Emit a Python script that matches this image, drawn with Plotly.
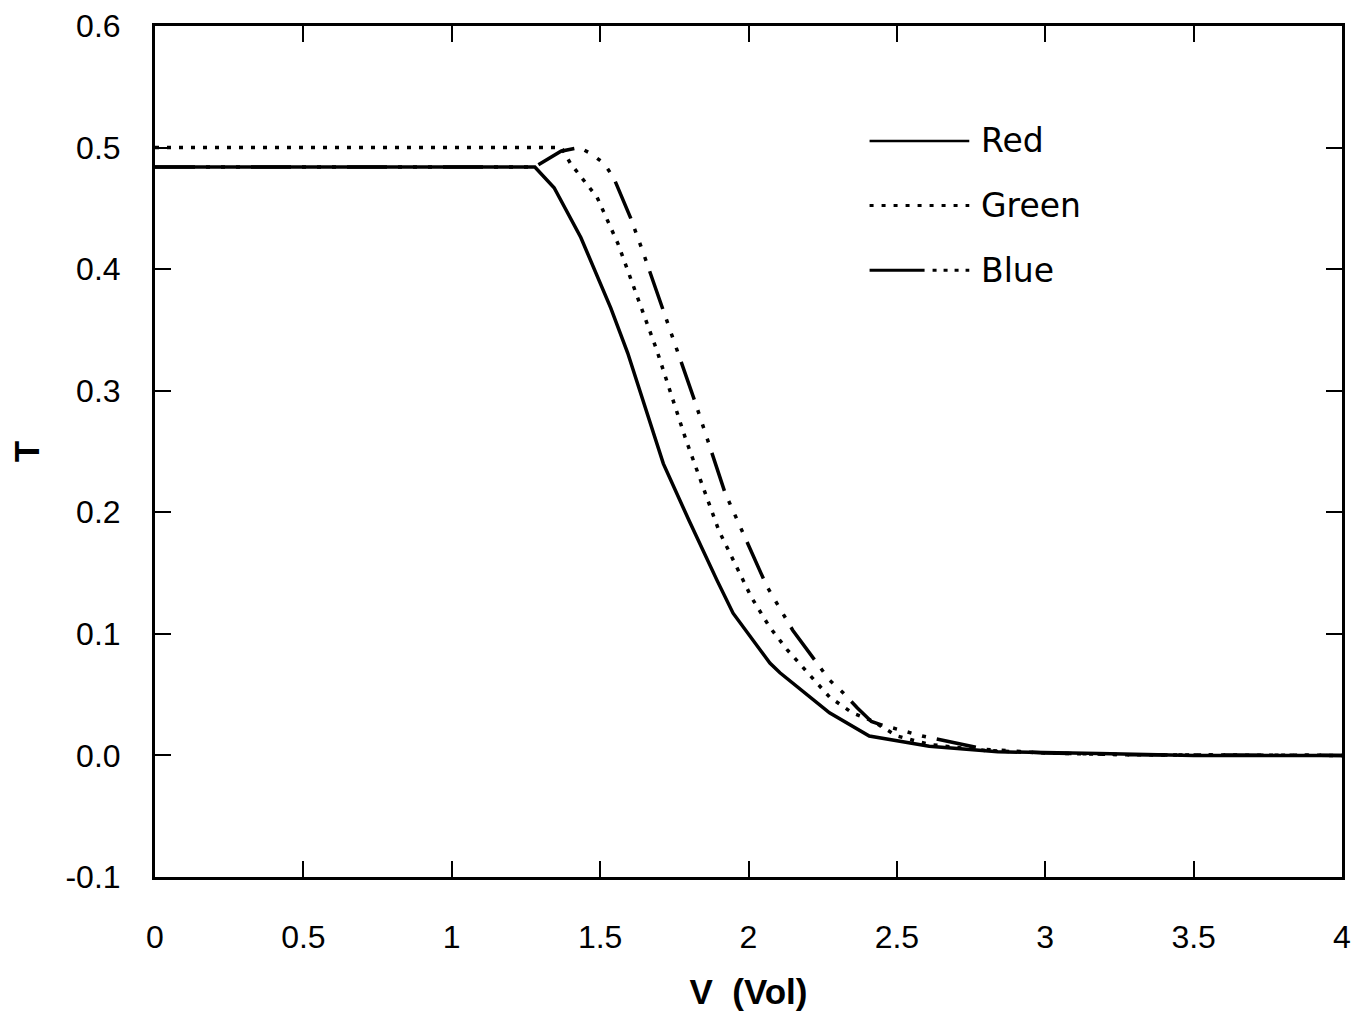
import plotly.graph_objects as go

# Transmission T versus applied voltage V for the three colour channels
red_v = [0, 1.28, 1.345, 1.435, 1.536, 1.593, 1.713, 1.80, 1.894, 1.948, 2.072, 2.106,
         2.273, 2.407, 2.609, 2.84, 3.18, 3.5, 4.0]
red_t = [0.484, 0.484, 0.467, 0.426, 0.368, 0.331, 0.240, 0.193, 0.144, 0.117, 0.076, 0.068,
         0.035, 0.016, 0.0075, 0.003, 0.0015, 0.0, 0.0]

green_v = [0, 1.37, 1.40, 1.49, 1.56, 1.625, 1.69, 1.79, 1.90, 2.01, 2.07, 2.13, 2.196,
           2.273, 2.35, 2.42, 2.50, 2.61, 2.8, 3.0, 3.3, 4.0]
green_t = [0.5, 0.5, 0.487, 0.459, 0.421, 0.377, 0.334, 0.259, 0.185, 0.130, 0.106, 0.087, 0.069,
           0.048, 0.035, 0.028, 0.016, 0.009, 0.004, 0.002, 0.0005, 0.0]

blue_v = [0, 1.28, 1.368, 1.43, 1.469, 1.513, 1.546, 1.603, 1.646, 1.713, 1.76, 1.821, 1.921,
          2.062, 2.149, 2.273, 2.317, 2.367, 2.414, 2.45, 2.585, 2.8, 3.0, 3.3, 4.0]
blue_t = [0.484, 0.484, 0.497, 0.5, 0.495, 0.487, 0.475, 0.442, 0.413, 0.366, 0.333, 0.29, 0.216,
          0.139, 0.103, 0.062, 0.052, 0.039, 0.028, 0.025, 0.016, 0.005, 0.002, 0.0005, 0.0]

x_ticks = [0, 0.5, 1, 1.5, 2, 2.5, 3, 3.5, 4]
x_labels = ["0", "0.5", "1", "1.5", "2", "2.5", "3", "3.5", "4"]
y_ticks = [-0.1, 0.0, 0.1, 0.2, 0.3, 0.4, 0.5, 0.6]
y_labels = ["-0.1", "0.0", "0.1", "0.2", "0.3", "0.4", "0.5", "0.6"]

series_names = ["Red", "Green", "Blue"]

GREEN_DASH = "4px,8px"
BLUE_DASH = "40px,11px,4px,11px,4px,11px,4px,11px"

fig = go.Figure()
fig.add_trace(go.Scatter(x=blue_v, y=blue_t, mode="lines", name="Blue",
                         line=dict(color="black", width=3.5, dash=BLUE_DASH)))
fig.add_trace(go.Scatter(x=green_v, y=green_t, mode="lines", name="Green",
                         line=dict(color="black", width=3.5, dash=GREEN_DASH)))
fig.add_trace(go.Scatter(x=red_v, y=red_t, mode="lines", name="Red",
                         line=dict(color="black", width=3.5)))

# Hand-drawn key in the upper right of the plotting area
key_x0, key_x1, key_text_x = 0.602, 0.686, 0.694
key_rows = [(0.865, "solid"), (0.789, GREEN_DASH), (0.713, "55px,8px,4px,7px,4px,7px,4px,7px,4px")]
for name, (ky, dash) in zip(series_names, key_rows):
    fig.add_shape(type="line", xref="paper", yref="paper", x0=key_x0, x1=key_x1, y0=ky, y1=ky,
                  line=dict(color="black", width=3 if dash != "solid" else 2.5, dash=dash))
    fig.add_annotation(xref="paper", yref="paper", x=key_text_x, y=ky, text=name,
                       showarrow=False, xanchor="left", yanchor="middle",
                       font=dict(family="DejaVu Sans", size=33, color="black"))

axis_common = dict(
    showline=True, linecolor="black", linewidth=3, mirror="ticks",
    ticks="inside", ticklen=16, tickwidth=1.5, tickcolor="black",
    showgrid=False, zeroline=False,
    tickfont=dict(family="Liberation Sans", size=32, color="black"),
)

fig.update_xaxes(range=[0, 4], tickvals=x_ticks, ticktext=x_labels,
                 ticklabelstandoff=30,
                 title=dict(text="<b>V\u00a0\u00a0(Vol)</b>", standoff=26,
                            font=dict(family="Liberation Sans", size=35, color="black")),
                 **axis_common)
fig.update_yaxes(range=[-0.1, 0.6], tickvals=y_ticks, ticktext=y_labels,
                 ticklabelstandoff=25,
                 title=dict(text="<b>T</b>", standoff=16,
                            font=dict(family="Liberation Sans", size=35, color="black")),
                 **axis_common)

fig.update_layout(
    width=1357, height=1013,
    margin=dict(l=155, r=6, t=26, b=136),
    paper_bgcolor="white", plot_bgcolor="white",
    showlegend=False,
)

fig.write_html("out.html")
